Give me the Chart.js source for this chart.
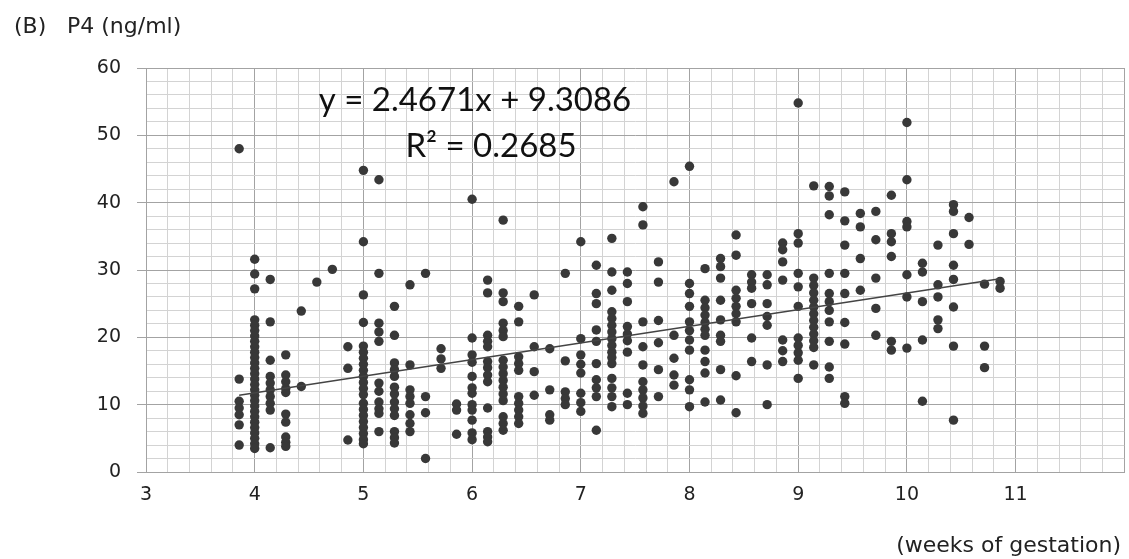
<!DOCTYPE html>
<html><head><meta charset="utf-8">
<script src="https://cdn.jsdelivr.net/npm/chart.js@4.4.1/dist/chart.umd.min.js"></script>
<style>html,body{margin:0;padding:0;background:#fff;}#wrap{width:1129px;height:559px;position:relative;}</style>
</head><body><div id="wrap"><canvas id="c"></canvas></div>
<script>
// ---- data ----
const gestationDays = [27,28,29,30,31,32,33,34,35,36,37,38,39,40,41,42,43,44,45,46,47,48,49,50,51,
  52,53,54,55,56,57,58,59,60,61,62,63,64,65,66,67,68,69,70,71,72,73,74,75,76];
const p4ByDay = [
  [48, 13.8, 10.5, 9.5, 8.5, 7, 4],
  [31.6, 29.4, 27.2, 22.6, 21.8, 21, 20.2, 19.4, 18.6, 17.8, 17, 16.2, 15.4, 14.6, 13.8, 13, 12.2, 11.4, 10.6, 9.8, 9, 8.2, 7.4, 6.6, 5.8, 5, 4.2, 3.5],
  [28.6, 22.3, 16.6, 14.2, 13.2, 12.2, 11.2, 10.2, 9.2, 3.6],
  [17.4, 14.4, 13.4, 12.4, 11.8, 8.6, 7.4, 5.2, 4.4, 3.8],
  [23.9, 12.7],
  [28.2],
  [30.1],
  [18.6, 15.4, 4.75],
  [44.8, 34.2, 26.3, 22.2, 18.7, 17.8, 16.9, 16, 15.1, 14.2, 13.3, 12.4, 11.5, 10.2, 9.3, 8.4, 7.5, 6.6, 5.7, 4.8, 4.2],
  [43.4, 29.5, 22.1, 20.8, 19.4, 13.2, 12, 10.4, 9.4, 8.7, 6],
  [24.6, 20.3, 16.2, 15.2, 14.2, 12.6, 11.6, 10.4, 9.4, 8.4, 6, 5.1, 4.3],
  [27.8, 15.9, 12.2, 11.2, 10.2, 8.5, 7.2, 6],
  [29.5, 11.2, 8.8, 2],
  [18.3, 16.8, 15.4],
  [10.1, 9.2, 5.6],
  [40.5, 19.9, 17.4, 16.3, 14.2, 12.5, 11.7, 10, 9.2, 7.7, 5.8, 4.8],
  [28.5, 26.6, 20.3, 19.4, 18.6, 16.4, 15.5, 14.4, 13.4, 9.5, 6, 5.2, 4.5],
  [37.4, 26.6, 25.3, 22.1, 21, 20.1, 16.6, 15.6, 14.6, 13.6, 12.6, 11.6, 10.6, 8.2, 7.2, 6.2],
  [24.6, 22.3, 17.1, 16.1, 15.1, 11.2, 10.2, 9.2, 8.2, 7.2],
  [26.3, 18.6, 14.9, 11.4],
  [18.3, 12.2, 8.5, 7.7],
  [29.5, 16.5, 11.9, 10.9, 10],
  [34.2, 19.8, 17.4, 16, 14.7, 11.7, 10.3, 9],
  [30.7, 26.5, 25, 21.1, 19.4, 16.1, 13.7, 12.5, 11.2, 6.2],
  [34.7, 29.7, 27, 23.8, 22.8, 21.8, 20.8, 19.8, 18.8, 17.8, 17, 16.1, 13.9, 12.5, 11.2, 9.7],
  [29.7, 28, 25.3, 21.6, 20.5, 19.5, 17.8, 11.7, 10],
  [39.4, 36.7, 22.3, 18.6, 15.9, 13.4, 12.2, 11, 9.8, 8.7],
  [31.2, 28.2, 22.5, 19.2, 15.2, 11.2],
  [43.1, 20.3, 16.9, 14.4, 12.9],
  [45.4, 28, 26.5, 24.6, 22.3, 21, 19.6, 18.1, 13.7, 12.2, 9.7],
  [30.2, 25.5, 24.4, 23.3, 22.2, 21.2, 20.3, 18.1, 16.4, 14.7, 10.4],
  [31.7, 30.5, 28.8, 25.5, 22.6, 20.3, 19.4, 15.2, 10.7],
  [35.2, 32.2, 27, 25.8, 24.6, 23.5, 22.3, 14.3, 8.8],
  [29.3, 28.2, 27.3, 25, 19.9, 16.4],
  [29.3, 27.8, 25, 23.1, 21.8, 15.9, 10],
  [34, 33, 31.2, 28.5, 19.6, 18, 16.4],
  [54.8, 35.4, 34, 29.5, 27.5, 24.6, 19.9, 18.8, 17.7, 16.6, 13.9],
  [42.5, 28.8, 27.7, 26.6, 25.5, 24.5, 23.5, 22.5, 21.5, 20.5, 19.5, 18.5, 15.9],
  [42.4, 41, 38.2, 29.5, 26.5, 25.3, 24, 22.3, 19.4, 15.6, 13.9],
  [41.6, 37.3, 33.7, 29.5, 26.5, 22.2, 19, 11.2, 10.2],
  [38.4, 36.4, 31.7, 27],
  [38.7, 34.5, 28.8, 24.3, 20.3],
  [41.1, 35.4, 34.2, 32, 19.4, 18.1],
  [51.9, 43.4, 37.2, 36.4, 29.3, 26, 18.4],
  [31, 29.7, 25.3, 19.6, 10.5],
  [33.7, 27.8, 26, 22.6, 21.3],
  [39.7, 38.7, 35.4, 30.7, 28.6, 24.5, 18.7, 7.7],
  [37.8, 33.8],
  [27.9, 18.7, 15.5],
  [28.3, 27.3]
];
const trendWeeks = [3.857, 10.857];
const trendP4 = [11.4, 28.7];
const xTickWeeks = [3, 4, 5, 6, 7, 8, 9, 10, 11];
const yTickValues = [0, 10, 20, 30, 40, 50, 60];
const panelLabel = '(B)';
const yAxisLabel = 'P4 (ng/ml)';
const xAxisLabel = '(weeks of gestation)';
const equationText = 'y = 2.4671x + 9.3086';
const r2Text = 'R\u00b2 = 0.2685';

// ---- build datasets ----
const scatterPoints = [];
gestationDays.forEach((d, i) => p4ByDay[i].forEach(v => scatterPoints.push({x: d / 7, y: v})));
const trendPoints = trendWeeks.map((w, i) => ({x: w, y: trendP4[i]}));

const MAJOR = '#a3a3a3', MINOR = '#d3d3d3', INK = '#383838';
const isXMajor = v => Math.abs(v - Math.round(v)) < 1e-6;
const isYMajor = v => yTickValues.includes(v);

const textPlugin = {
  id: 'texts',
  afterDraw(chart) {
    const ctx = chart.ctx;
    ctx.save();
    ctx.fillStyle = '#222';
    ctx.textBaseline = 'middle';
    ctx.textAlign = 'left';
    ctx.font = '22px "DejaVu Sans"';
    ctx.fillText(panelLabel, 14, 27);
    ctx.fillText(yAxisLabel, 67, 27);
    ctx.textAlign = 'right';
    ctx.font = '22px "DejaVu Sans"';
    ctx.fillText(xAxisLabel, 1121, 546);
    ctx.fillStyle = '#111';
    ctx.textAlign = 'center';
    ctx.font = '33px "Lato"';
    ctx.fillText(equationText, 475, 100);
    ctx.fillText(r2Text, 491, 146);
    ctx.restore();
  }
};

new Chart(document.getElementById('c'), {
  type: 'scatter',
  data: {
    datasets: [
      {data: trendPoints, showLine: true, borderColor: '#444', borderWidth: 1.3, pointRadius: 0, order: 0, fill: false},
      {data: scatterPoints, backgroundColor: INK, borderWidth: 0, pointRadius: 4.7, order: 1}
    ]
  },
  options: {
    responsive: true, maintainAspectRatio: false, animation: false,
    layout: {padding: {top: 68, right: 1, left: 0, bottom: 0}},
    plugins: {legend: {display: false}, tooltip: {enabled: false}},
    scales: {
      x: {
        type: 'linear', min: 3, max: 12,
        afterFit: s => { s.height = 87; },
        border: {color: MAJOR},
        grid: {color: c => (c.tick && isXMajor(c.tick.value)) ? MAJOR : MINOR,
          drawTicks: true, tickLength: 12, tickColor: 'rgba(0,0,0,0)'},
        ticks: {stepSize: 0.2, autoSkip: false, maxRotation: 0, padding: 0, color: '#222',
          font: {family: 'DejaVu Sans', size: 19},
          callback: v => xTickWeeks.includes(Math.round(v * 10) / 10) ? String(Math.round(v)) : ''}
      },
      y: {
        type: 'linear', min: 0, max: 60,
        afterFit: s => { s.width = 146; },
        border: {color: MAJOR},
        grid: {color: c => (c.tick && isYMajor(c.tick.value)) ? MAJOR : MINOR,
          tickColor: c => (c.tick && isYMajor(c.tick.value)) ? MAJOR : 'rgba(0,0,0,0)', tickLength: 9},
        ticks: {stepSize: 2, autoSkip: false, padding: 16, color: '#222',
          font: {family: 'DejaVu Sans', size: 19},
          callback: v => isYMajor(v) ? String(v) : ''}
      }
    }
  },
  plugins: [textPlugin]
});
</script></body></html>
